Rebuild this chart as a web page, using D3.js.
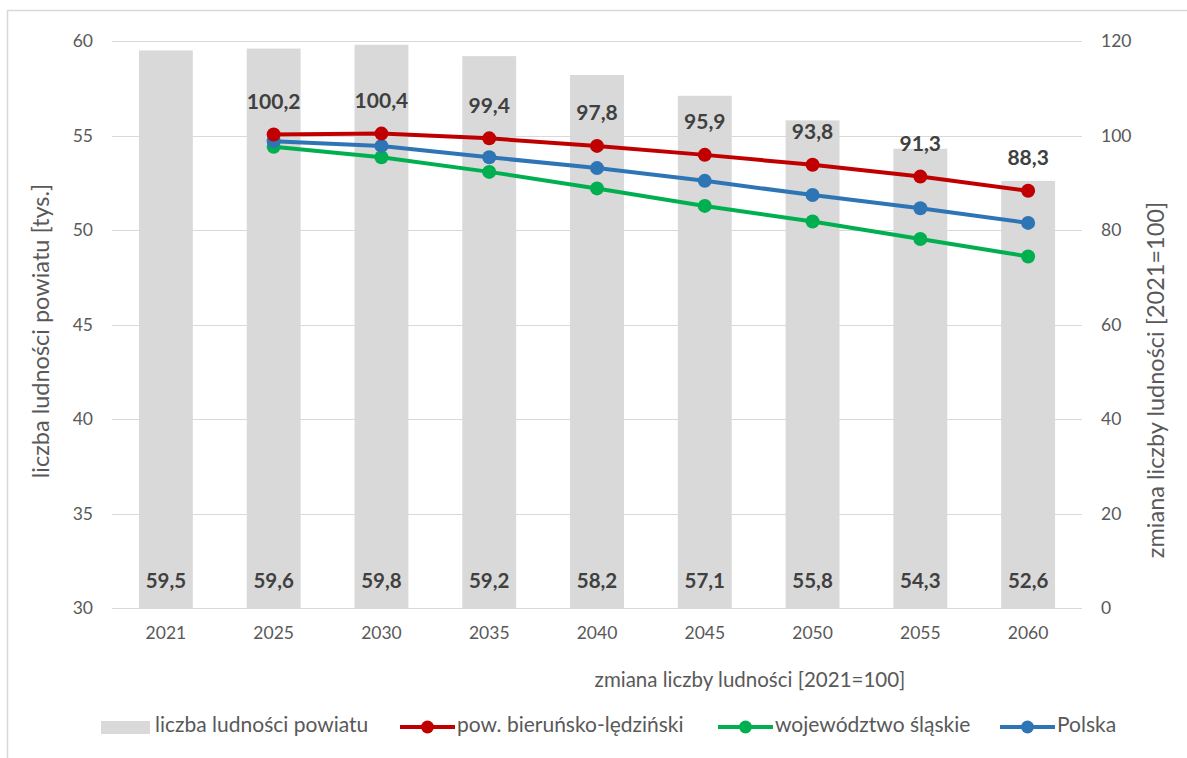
<!DOCTYPE html>
<html><head><meta charset="utf-8">
<script src="https://cdn.jsdelivr.net/npm/d3@7"></script>
<style>body{margin:0;background:#fff;font-family:Lato,"Open Sans",sans-serif}</style>
</head><body>
<svg id="c" width="1187" height="758"></svg>
<script>
const years = ["2021","2025","2030","2035","2040","2045","2050","2055","2060"];
const barValues = [59.5,59.6,59.8,59.2,58.2,57.1,55.8,54.3,52.6];
const powiat = [null,100.2,100.4,99.4,97.8,95.9,93.8,91.3,88.3];
const slaskie = [null,97.6,95.4,92.3,88.8,85.1,81.8,78.1,74.4];
const polska = [null,98.8,97.8,95.4,93.1,90.4,87.4,84.6,81.5];
const leftTicks = [30,35,40,45,50,55,60];
const rightTicks = [0,20,40,60,80,100,120];
const seriesNames = ["liczba ludności powiatu","pow. bieruńsko-lędziński","województwo śląskie","Polska"];
const colors = {bar:"#d9d9d9", powiat:"#c00000", slaskie:"#00b050", polska:"#2e75b6"};

const svg = d3.select("#c");
const L=112, R=1082, T=41, B=608;
const x = d3.scaleBand().domain(years).range([L,R]).paddingInner(0.5).paddingOuter(0.25);
const yL = d3.scaleLinear().domain([30,60]).range([B,T]);
const yR = d3.scaleLinear().domain([0,120]).range([B,T]);
const tc = "#595959";

svg.append("rect").attr("x",7.5).attr("y",10.5).attr("width",1300).attr("height",900)
  .attr("fill","none").attr("stroke","#d9d9d9").attr("stroke-width",1.5);

// gridlines
svg.append("g").selectAll("line").data(leftTicks).join("line")
  .attr("x1",L).attr("x2",R).attr("y1",d=>Math.round(yL(d))+0.5).attr("y2",d=>Math.round(yL(d))+0.5)
  .attr("stroke","#d9d9d9").attr("stroke-width",1);

// bars
svg.append("g").selectAll("rect").data(barValues).join("rect")
  .attr("x",(d,i)=>x(years[i])).attr("width",x.bandwidth())
  .attr("y",d=>yL(d)).attr("height",d=>B-yL(d)).attr("fill",colors.bar);

// axes
const axL = svg.append("g").attr("transform",`translate(${L},0)`)
  .call(d3.axisLeft(yL).tickValues(leftTicks).tickSize(0).tickPadding(19));
const axR = svg.append("g").attr("transform",`translate(${R},0)`)
  .call(d3.axisRight(yR).tickValues(rightTicks).tickSize(0).tickPadding(19));
const axB = svg.append("g").attr("transform",`translate(0,${B})`)
  .call(d3.axisBottom(x).tickSize(0).tickPadding(19));
[axL,axR,axB].forEach(a=>{a.select(".domain").remove();
  a.selectAll("text").attr("fill",tc).style("font-size","17.5px").style("font-family","Lato,sans-serif");});

// bar labels
svg.append("g").selectAll("text").data(barValues).join("text")
  .attr("x",(d,i)=>x(years[i])+x.bandwidth()/2).attr("y",B-25)
  .attr("dominant-baseline","middle")
  .attr("text-anchor","middle").attr("fill","#404040").style("font-weight","bold").style("font-size","20.5px")
  .text(d=>d.toFixed(1).replace(".",","));

// lines
const cx = i=>x(years[i])+x.bandwidth()/2;
const seriesList = [[slaskie,colors.slaskie],[polska,colors.polska],[powiat,colors.powiat]];
const line = d3.line().defined(d=>d.v!=null).x(d=>cx(d.i)).y(d=>yR(d.v));
seriesList.forEach(([vals,col])=>{
  const pts = vals.map((v,i)=>({v,i}));
  svg.append("path").datum(pts).attr("d",line).attr("fill","none").attr("stroke",col).attr("stroke-width",4).attr("stroke-linejoin","round");
  svg.append("g").selectAll("circle").data(pts.filter(d=>d.v!=null)).join("circle")
    .attr("cx",d=>cx(d.i)).attr("cy",d=>yR(d.v)).attr("r",7).attr("fill",col);
});

// powiat labels
svg.append("g").selectAll("text").data(powiat.map((v,i)=>({v,i})).filter(d=>d.v!=null)).join("text")
  .attr("x",d=>cx(d.i)).attr("y",d=>yR(d.v)-31).attr("dominant-baseline","middle")
  .attr("text-anchor","middle").attr("fill","#404040").style("font-weight","bold").style("font-size","21px")
  .text(d=>d.v.toFixed(1).replace(".",","));

// axis titles
svg.append("text").attr("transform",`translate(43,331) rotate(-90)`).attr("text-anchor","middle")
  .attr("dominant-baseline","middle")
  .attr("fill",tc).style("font-size","23.5px").text("liczba ludności powiatu [tys.]");
svg.append("text").attr("transform",`translate(1158,380) rotate(-90)`).attr("text-anchor","middle")
  .attr("dominant-baseline","middle")
  .attr("fill",tc).style("font-size","23.5px").text("zmiana liczby ludności [2021=100]");
svg.append("text").attr("x",750).attr("y",682).attr("text-anchor","middle").attr("dominant-baseline","middle")
  .attr("fill",tc).style("font-size","20.5px").text("zmiana liczby ludności [2021=100]");

// legend
const ly = 727;
const lg = svg.append("g");
lg.append("rect").attr("x",101).attr("y",ly-6).attr("width",49).attr("height",13).attr("fill",colors.bar);
lg.append("text").attr("x",155).attr("y",ly).attr("dominant-baseline","middle").attr("fill",tc).style("font-size","21px").text(seriesNames[0]);
[[400,colors.powiat,seriesNames[1]],[718,colors.slaskie,seriesNames[2]],[1000,colors.polska,seriesNames[3]]].forEach(([lx,col,name])=>{
  lg.append("line").attr("x1",lx).attr("x2",lx+55).attr("y1",ly).attr("y2",ly).attr("stroke",col).attr("stroke-width",4);
  lg.append("circle").attr("cx",lx+27.5).attr("cy",ly).attr("r",6.5).attr("fill",col);
  lg.append("text").attr("x",lx+57).attr("y",ly).attr("dominant-baseline","middle").attr("fill",tc).style("font-size","21px").text(name);
});
</script>
</body></html>
